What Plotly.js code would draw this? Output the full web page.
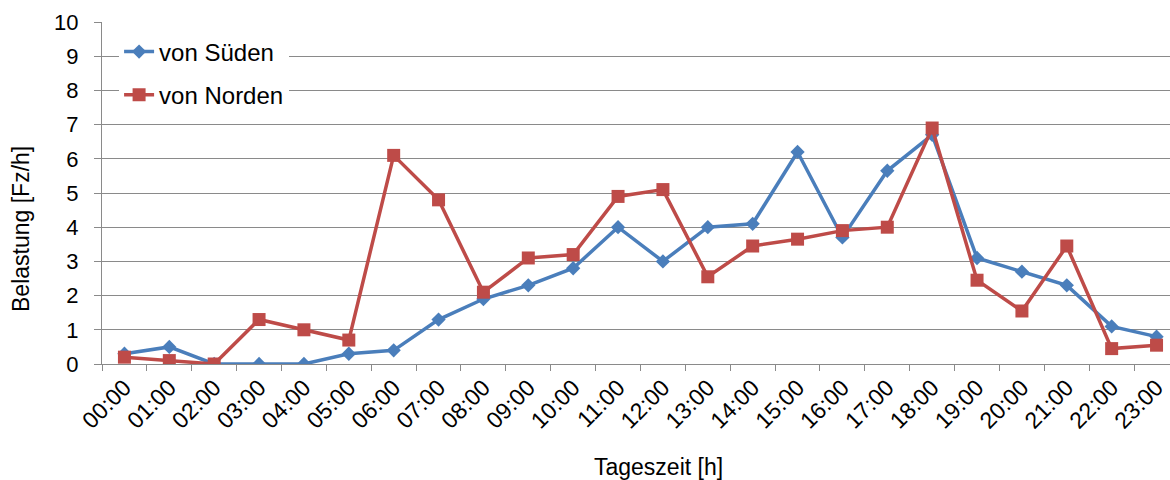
<!DOCTYPE html>
<html>
<head>
<meta charset="utf-8">
<script src="https://cdn.plot.ly/plotly-3.0.1.min.js"></script>
<style>html,body{margin:0;padding:0;background:#fff;}#chart{width:1170px;height:480px;}</style>
</head>
<body>
<div id="chart"></div>
<script>
const hours = ['00:00','01:00','02:00','03:00','04:00','05:00','06:00','07:00','08:00','09:00','10:00','11:00',
               '12:00','13:00','14:00','15:00','16:00','17:00','18:00','19:00','20:00','21:00','22:00','23:00'];
const vonSueden = [0.3,0.5,0,0,0,0.3,0.4,1.3,1.9,2.3,2.8,4.0,3.0,4.0,4.1,6.2,3.7,5.65,6.7,3.1,2.7,2.3,1.1,0.8];
const vonNorden = [0.2,0.1,0,1.3,1.0,0.7,6.1,4.8,2.1,3.1,3.2,4.9,5.1,2.55,3.45,3.65,3.9,4.0,6.9,2.45,1.55,3.45,0.45,0.55];
const yTicks = [0,1,2,3,4,5,6,7,8,9,10];
const seriesNames = ['von Süden','von Norden'];
const xTitle = 'Tageszeit [h]';
const yTitle = 'Belastung [Fz/h]';

const font = 'Liberation Sans, Arial, sans-serif';
const gridCol = '#8a8a8a';

const traces = [
  {x: hours, y: vonSueden, name: seriesNames[0], type: 'scatter', mode: 'lines+markers', legendgroup: 'a',
   line: {color: '#4a7ebb', width: 3.5}, marker: {symbol: 'diamond', size: 11, color: '#4a7ebb'}},
  {x: hours, y: vonNorden, name: seriesNames[1], type: 'scatter', mode: 'lines+markers', legendgroup: 'b',
   line: {color: '#be4b48', width: 3.5}, marker: {symbol: 'square', size: 13, color: '#be4b48'}}
];

const layout = {
  width: 1170, height: 480,
  margin: {l: 102, r: 0, t: 22, b: 116, pad: 0},
  paper_bgcolor: '#fff', plot_bgcolor: '#fff',
  font: {family: font, color: '#000', size: 22},
  showlegend: true,
  legend: {x: 0.016, y: 0.978, xanchor: 'left', yanchor: 'top', bgcolor: '#fff', borderwidth: 0,
           font: {family: font, size: 24, color: '#000'}, tracegroupgap: 9, itemwidth: 30},
  xaxis: {type: 'category', range: [-0.5, 23.3], tickson: 'boundaries', ticks: 'outside', ticklen: 6,
          tickcolor: gridCol, showline: true, linecolor: gridCol, linewidth: 1, showgrid: false,
          tickangle: -45, tickfont: {family: font, size: 23, color: '#000'}, zeroline: false, fixedrange: true},
  yaxis: {range: [0, 10], tickvals: yTicks, ticks: 'outside', ticklen: 7, tickcolor: gridCol,
          showline: true, linecolor: gridCol, linewidth: 1, showgrid: true, gridcolor: gridCol, gridwidth: 1,
          zeroline: false, ticklabelstandoff: 11, tickfont: {family: font, size: 22, color: '#000'}, fixedrange: true},
  annotations: [
    {text: xTitle, xref: 'paper', yref: 'paper', x: (658 - 102) / 1068, y: -(467 - 364) / 342,
     xanchor: 'center', yanchor: 'middle', showarrow: false, font: {family: font, size: 23, color: '#000'}},
    {text: yTitle, xref: 'paper', yref: 'paper', x: -(102 - 21) / 1068, y: (364 - 229) / 342,
     xanchor: 'center', yanchor: 'middle', textangle: -90, showarrow: false, font: {family: font, size: 23, color: '#000'}}
  ]
};

Plotly.newPlot('chart', traces, layout, {displayModeBar: false, staticPlot: true});
</script>
</body>
</html>
